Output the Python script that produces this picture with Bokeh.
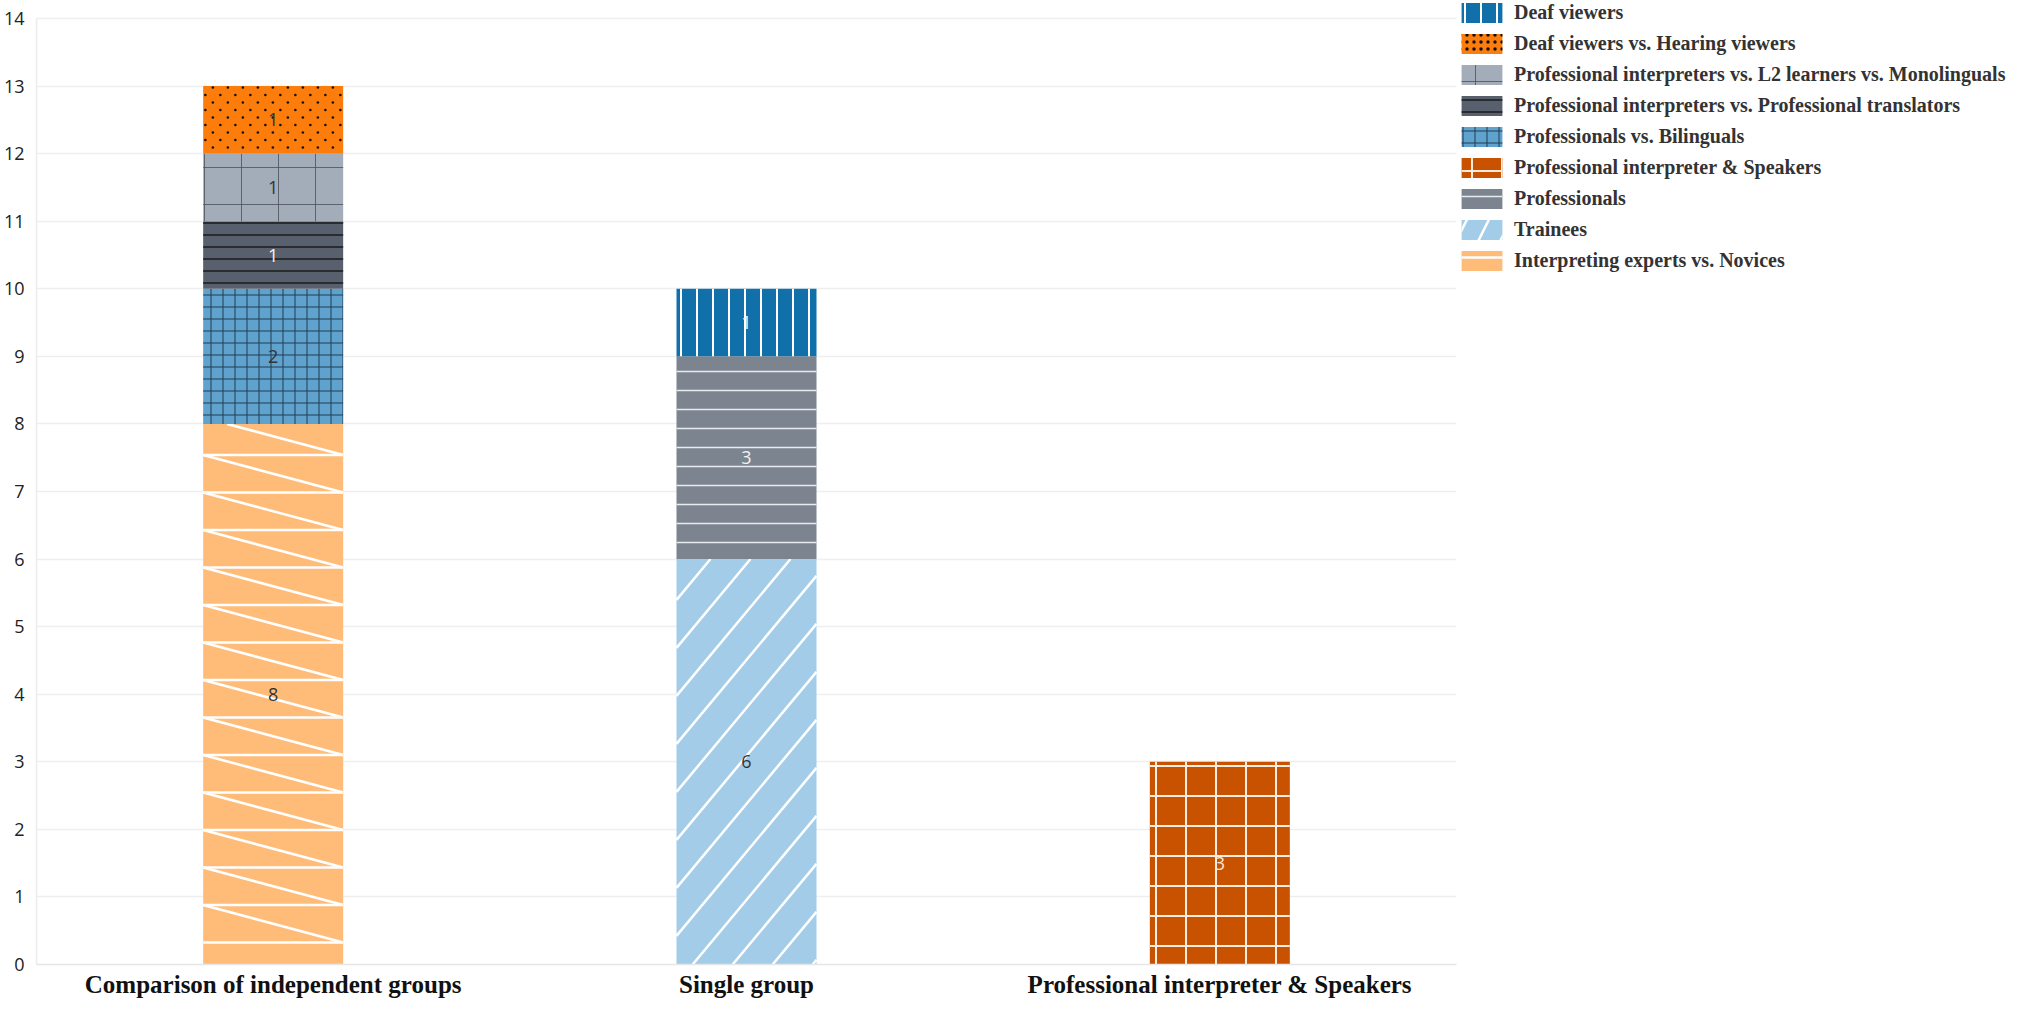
from bokeh.plotting import figure
from bokeh.models import (ColumnDataSource, FixedTicker, Legend, LegendItem,
                          Range1d, FactorRange)
from bokeh.embed import file_html
from bokeh.resources import INLINE
from bokeh.core.properties import value

# ---------------- data ----------------
categories = ["Comparison of independent groups", "Single group",
              "Professional interpreter & Speakers"]

# stacking order, bottom -> top
series_names = [
    "Interpreting experts vs. Novices",
    "Trainees",
    "Professionals",
    "Professional interpreter & Speakers",
    "Professionals vs. Bilinguals",
    "Professional interpreters vs. Professional translators",
    "Professional interpreters vs. L2 learners vs. Monolinguals",
    "Deaf viewers vs. Hearing viewers",
    "Deaf viewers",
]
interpreting_experts_vs_novices = [8, 0, 0]
trainees = [0, 6, 0]
professionals = [0, 3, 0]
prof_interpreter_speakers = [0, 0, 3]
professionals_vs_bilinguals = [2, 0, 0]
interpreters_vs_translators = [1, 0, 0]
interpreters_vs_l2_vs_mono = [1, 0, 0]
deaf_vs_hearing = [1, 0, 0]
deaf_viewers = [0, 1, 0]

series_values = [interpreting_experts_vs_novices, trainees, professionals,
                 prof_interpreter_speakers, professionals_vs_bilinguals,
                 interpreters_vs_translators, interpreters_vs_l2_vs_mono,
                 deaf_vs_hearing, deaf_viewers]

legend_order = list(reversed(series_names))
y_ticks = list(range(0, 15))

# ---------------- geometry / styling ----------------
FRAME_W, FRAME_H = 1420, 964
Y_TOP = 14 * FRAME_H / (FRAME_H - 18.0)     # room above the 14 gridline
PX_Y = FRAME_H / Y_TOP                       # px per y unit
PX_X = FRAME_W / 3.0                         # px per category
BAR_PX = 140.0
BAR_W = BAR_PX / PX_X

styles = {
    "Interpreting experts vs. Novices": dict(fill="#ffbc79", tex="zigzag", tc="#333333"),
    "Trainees": dict(fill="#a3cce9", tex="diag", tc="#333333"),
    "Professionals": dict(fill="#7b848f", hatch="horizontal_line", hc="#e9ecef", hs=19, hw=1.5, tc="#f2f2f2"),
    "Professional interpreter & Speakers": dict(fill="#c85200", hatch="cross", hc="#fbeee0", hs=30, hw=2, tc="#f6e6d6"),
    "Professionals vs. Bilinguals": dict(fill="#5fa2ce", hatch="cross", hc="#1f3b52", hs=12, hw=1, tc="#333333"),
    "Professional interpreters vs. Professional translators": dict(fill="#57606c", hatch="horizontal_line", hc="#1a1a1a", hs=12, hw=1.5, tc="#f2f2f2"),
    "Professional interpreters vs. L2 learners vs. Monolinguals": dict(fill="#a3acb9", hatch="cross", hc="#4b5058", hs=37, hw=0.8, tc="#333333"),
    "Deaf viewers vs. Hearing viewers": dict(fill="#fc7d0b", tex="dots", tc="#333333"),
    "Deaf viewers": dict(fill="#1170aa", hatch="vertical_line", hc="#ffffff", hs=16, hw=2, tc="#f2f2f2"),
}
# legend-swatch look for the hand-made textures
legend_hatch = {
    "dots": dict(hatch_pattern="dot", hatch_color="#111111", hatch_scale=7),
    "diag": dict(hatch_pattern="right_diagonal_line", hatch_color="#ffffff", hatch_scale=44, hatch_weight=2.5),
    "zigzag": dict(hatch_pattern="horizontal_line", hatch_color="#ffffff", hatch_scale=17, hatch_weight=2.5),
}

p = figure(x_range=FactorRange(*categories), y_range=Range1d(0, Y_TOP),
           frame_width=FRAME_W, frame_height=FRAME_H,
           output_backend="svg", toolbar_location=None,
           min_border_left=29, min_border_right=0,
           min_border_top=0, min_border_bottom=27)
p.outline_line_color = None
p.background_fill_color = "#ffffff"


def zigzag_segments(xs, bot, top):
    band, first = 37.5 / PX_Y, 22.0 / PX_Y
    half = BAR_W / 2.0
    x0, y0, x1, y1 = [], [], [], []
    for c, b, t in zip(xs, bot, top):
        yk = b + first
        while yk < t - 0.02:
            x0.append([c, -half]); y0.append(yk); x1.append([c, half]); y1.append(yk)
            yu = yk + band
            if yu <= t:
                x0.append([c, -half]); y0.append(yu)
            else:
                f = (yu - t) / band
                x0.append([c, -half + f * BAR_W]); y0.append(t)
            x1.append([c, half]); y1.append(yk)
            yk += band
    return dict(x0=x0, y0=y0, x1=x1, y1=y1)


def diagonal_segments(xs, bot, top):
    slope, gap, phase = 1.2, 40.0, 34.0
    half = BAR_W / 2.0
    x0, y0, x1, y1 = [], [], [], []
    for c, b, t in zip(xs, bot, top):
        hp = (t - b) * PX_Y
        xt = phase - gap * 4
        while xt < BAR_PX + hp / slope:
            lo = max(0.0, (xt - BAR_PX) * slope)
            hi = min(hp, xt * slope)
            if hi > lo:
                for tt, xa, ya in ((lo, x0, y0), (hi, x1, y1)):
                    xa.append([c, -half + (xt - tt / slope) / PX_X])
                    ya.append(t - tt / PX_Y)
            xt += gap
    return dict(x0=x0, y0=y0, x1=x1, y1=y1)


def dot_points(xs, bot, top):
    dy, dx = 7.5 / PX_Y, 15.0 / PX_X
    half = BAR_W / 2.0
    px, py = [], []
    for c, b, t in zip(xs, bot, top):
        row = 0
        yr = t - 1.5 / PX_Y
        while yr > b + 0.01:
            xo = -half + ((9.7 if row % 2 == 0 else 2.2) / PX_X)
            while xo < half - 0.004:
                px.append([c, xo]); py.append(yr)
                xo += dx
            yr -= dy
            row += 1
    return dict(x=px, y=py)


bottoms = [0.0] * len(categories)
legend_renderers = {}
for name, vals in zip(series_names, series_values):
    st = styles[name]
    xs, bot, top, mid, lab = [], [], [], [], []
    for i, v in enumerate(vals):
        if v > 0:
            xs.append(categories[i])
            bot.append(bottoms[i])
            top.append(bottoms[i] + v)
            mid.append(bottoms[i] + v / 2.0)
            lab.append(str(v))
            bottoms[i] += v
    src = ColumnDataSource(dict(x=xs, bottom=bot, top=top, mid=mid, label=lab))
    kw = dict(x="x", bottom="bottom", top="top", width=BAR_W, source=src,
              fill_color=st["fill"], line_color=None)
    tex = st.get("tex")
    if tex is None:
        kw.update(hatch_pattern=st["hatch"], hatch_color=st["hc"],
                  hatch_scale=st["hs"], hatch_weight=st["hw"])
    r = p.vbar(**kw)
    legend_renderers[name] = [r]
    if tex == "zigzag":
        p.segment(x0="x0", y0="y0", x1="x1", y1="y1",
                  source=ColumnDataSource(zigzag_segments(xs, bot, top)),
                  line_color="#ffffff", line_width=2.5)
    elif tex == "diag":
        p.segment(x0="x0", y0="y0", x1="x1", y1="y1",
                  source=ColumnDataSource(diagonal_segments(xs, bot, top)),
                  line_color="#ffffff", line_width=2.5)
    elif tex == "dots":
        p.scatter(x="x", y="y", source=ColumnDataSource(dot_points(xs, bot, top)),
                  marker="circle", size=2.6, fill_color="#111111", line_color=None)
    if tex is not None:
        # hidden twin of the bar, used only for the legend swatch
        proxy = p.vbar(x="x", bottom="bottom", top="top", width=BAR_W, source=src,
                       fill_color=st["fill"], line_color=None, visible=False,
                       **legend_hatch[tex])
        legend_renderers[name] = [proxy]
    p.text(x="x", y="mid", text="label", source=src, text_align="center",
           text_baseline="middle", text_font=value("Open Sans"),
           text_font_size="18px", text_color=st["tc"])

items = [LegendItem(label=n, renderers=legend_renderers[n]) for n in legend_order]
legend = Legend(items=items, location="top_left",
                glyph_width=51, glyph_height=25, spacing=6, label_standoff=7,
                padding=0, margin=0, border_line_color=None,
                background_fill_alpha=0, inactive_fill_alpha=0,
                label_text_font="Liberation Serif", label_text_font_style="bold",
                label_text_font_size="20px", label_text_color="#333333",
                label_height=25)
p.add_layout(legend, "right")

# axes
p.yaxis.ticker = FixedTicker(ticks=y_ticks)
p.yaxis.bounds = (0, 14)
p.yaxis.major_label_text_font = "Open Sans"
p.yaxis.major_label_text_font_size = "18px"
p.yaxis.major_label_text_color = "#222222"
p.yaxis.major_tick_line_color = None
p.yaxis.minor_tick_line_color = None
p.yaxis.major_label_standoff = 6
p.yaxis.axis_line_color = "#ececec"
p.yaxis.axis_line_width = 1.5

p.xaxis.major_label_text_font = "Liberation Serif"
p.xaxis.major_label_text_font_style = "bold"
p.xaxis.major_label_text_font_size = "25px"
p.xaxis.major_label_text_color = "#111111"
p.xaxis.major_tick_line_color = None
p.xaxis.minor_tick_line_color = None
p.xaxis.major_label_standoff = 0
p.xaxis.axis_line_color = "#e6e6e6"
p.xaxis.axis_line_width = 1.5

p.xgrid.grid_line_color = None
p.ygrid.grid_line_color = "#efefef"
p.ygrid.grid_line_width = 1.5

open("out.html", "w").write(file_html(p, INLINE))
